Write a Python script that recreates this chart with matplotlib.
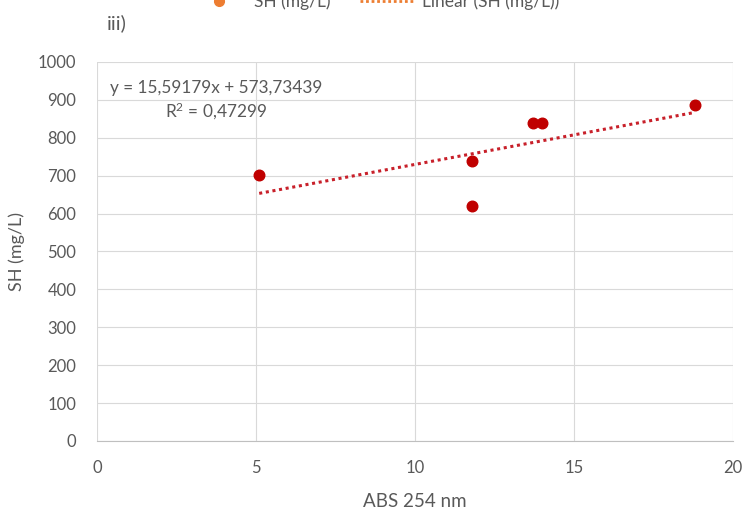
import numpy as np
import matplotlib
matplotlib.use("Agg")
import matplotlib.pyplot as plt
from matplotlib.lines import Line2D

# data
abs254 = [5.1, 11.8, 11.8, 13.7, 14.0, 18.8]
sh = [703, 740, 620, 840, 838, 886]

# trendline coefficients as printed on the chart
slope = 15.59179
intercept = 573.73439
r2 = 0.47299

x_ticks = [0, 5, 10, 15, 20]
y_ticks = [0, 100, 200, 300, 400, 500, 600, 700, 800, 900, 1000]

plt.rcParams['font.family'] = ['Lato', 'DejaVu Sans']
grey = '#595959'

fig = plt.figure(figsize=(7.43, 5.12), dpi=100)
ax = fig.add_axes([0.1306, 0.1387, 0.8559, 0.7403])

ax.scatter(abs254, sh, s=58, color='#C00000', zorder=3)
xs = np.array([min(abs254), max(abs254)])
ax.plot(xs, slope * xs + intercept, linestyle=(0, (1, 1.2)), linewidth=2.2,
        color='#C8202A', zorder=2)

ax.set_xlim(0, 20)
ax.set_ylim(0, 1000)
ax.set_xticks(x_ticks)
ax.set_yticks(y_ticks)
ax.grid(True, color='#D9D9D9', linewidth=0.8)
ax.set_axisbelow(True)
for s in ['top', 'right', 'left']:
    ax.spines[s].set_visible(False)
ax.spines['bottom'].set_color('#BFBFBF')
ax.tick_params(axis='y', length=0, labelsize=12, labelcolor=grey, pad=15)
ax.tick_params(axis='x', length=0, labelsize=12, labelcolor=grey, pad=14)

ax.set_xlabel('ABS 254 nm', fontsize=13.5, color=grey, labelpad=12)
ax.set_ylabel('SH (mg/L)', fontsize=13, color=grey, labelpad=9)

eq = 'y = 15,59179x + 573,73439\n$\\mathregular{R^2}$ = 0,47299'
ax.text(3.74, 896, eq, fontsize=12.4, color=grey, ha='center', va='center',
        linespacing=1.3)

fig.text(0.144, 0.955, 'iii)', fontsize=14.5, color=grey, ha='left', va='center')

handles = [
    Line2D([], [], marker='o', linestyle='none', color='#ED7D31', markersize=7),
    Line2D([], [], linestyle=(0, (1, 1)), color='#ED7D31', linewidth=2),
]
fig.legend(handles, ['SH (mg/L)', 'Linear (SH (mg/L))'], loc='center',
           bbox_to_anchor=(0.505, 0.996), ncol=2, frameon=False, fontsize=12.5,
           labelcolor=grey, handlelength=3.2, handletextpad=0.4,
           columnspacing=1.7, borderpad=0)

fig.savefig('out.png', dpi=100)
